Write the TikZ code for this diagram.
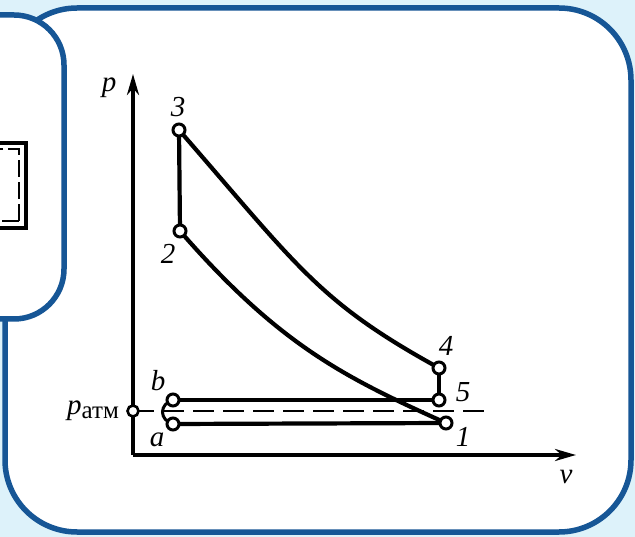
\documentclass[tikz,border=0pt]{standalone}
\usepackage{fontspec}
\setmainfont{Liberation Serif}
\usetikzlibrary{arrows.meta}
\definecolor{bgblue}{RGB}{221,242,250}
\definecolor{frameblue}{RGB}{22,86,150}
\begin{document}
\begin{tikzpicture}[x=1pt,y=-1pt,
  panel/.style={draw=frameblue,line width=5.5pt,fill=white},
  axis/.style={line width=3.6pt,-{Stealth[length=21pt,width=12pt]}},
  curve/.style={line width=4.2pt},
  thin curve/.style={line width=3pt},
  atmline/.style={line width=2.4pt,dash pattern=on 21pt off 9pt},
  pt/.style={circle,draw,line width=3pt,fill=white,minimum size=12pt,inner sep=0pt},
  lbl/.style={font=\fontsize{29}{30}\selectfont\itshape,inner sep=0pt}]
\useasboundingbox (0,0) rectangle (635,537);
\clip (0,0) rectangle (635,537);
\fill[bgblue] (0,0) rectangle (635,537);
% panels
\draw[panel,rounded corners=72pt] (5,8) rectangle (631,532);
\draw[panel,rounded corners=50pt] (-90,15) rectangle (64,319);
% small element in left panel
\draw[line width=3.4pt] (-30,143) rectangle (26,228);
\draw[line width=2.6pt,dash pattern=on 17pt off 5pt] (19,221) -- (19,149) -- (-30,149);
\draw[line width=2.6pt,dash pattern=on 17pt off 5pt] (19,221) -- (-30,221);
% axes
\coordinate (O) at (133,455);
\coordinate (ytip) at (133,74);
\coordinate (xtip) at (576,455);
\draw[axis] (O) -- (ytip);
\draw[axis] (O) -- (xtip);
% state points
\coordinate (c3) at (179,130);
\coordinate (c2) at (180,231);
\coordinate (c4) at (439,368);
\coordinate (c5) at (439,400);
\coordinate (c1) at (446,423);
\coordinate (cb) at (173,400);
\coordinate (ca) at (173,424);
\coordinate (cat) at (133,411);
\coordinate (dashend) at (484,411);
% atmospheric pressure line
\draw[atmline] (cat) -- (dashend);
% cycle
\draw[curve] (c3) -- (c2);
\draw[curve] (c3) .. controls (299,268) and (319,302) .. (c4);
\draw[curve] (c2) .. controls (280,346) and (346,378) .. (c1);
\draw[curve] (c4) -- (c5);
\draw[curve] (cb) -- (c5);
\draw[curve] (ca) -- (c1);
\draw[thin curve] (cb) .. controls (159,404) and (159,420) .. (ca);
% markers
\node[pt] (n3) at (c3) {};
\node[pt] (n2) at (c2) {};
\node[pt] (n4) at (c4) {};
\node[pt] (n5) at (c5) {};
\node[pt] (n1) at (c1) {};
\node[pt] (nb) at (cb) {};
\node[pt] (na) at (ca) {};
\node[pt,minimum size=11pt,line width=2.6pt] (natm) at (cat) {};
% labels
\node[lbl] (lp) at (109,88) {p};
\node[lbl] (lv) at (566,477) {v};
\node[lbl] (l3) at (178,107) {3};
\node[lbl] (l2) at (168,254) {2};
\node[lbl] (l4) at (446,346) {4};
\node[lbl] (l5) at (463,392) {5};
\node[lbl] (l1) at (463,437) {1};
\node[lbl] (lb) at (158,381) {b};
\node[lbl] (la) at (157,440) {a};
\node[inner sep=0pt,anchor=base east] (lpatm) at (119,415)
  {\fontsize{29}{30}\selectfont\itshape p\raisebox{-3pt}{\fontsize{25}{26}\selectfont\upshape атм}};
\end{tikzpicture}
\end{document}
